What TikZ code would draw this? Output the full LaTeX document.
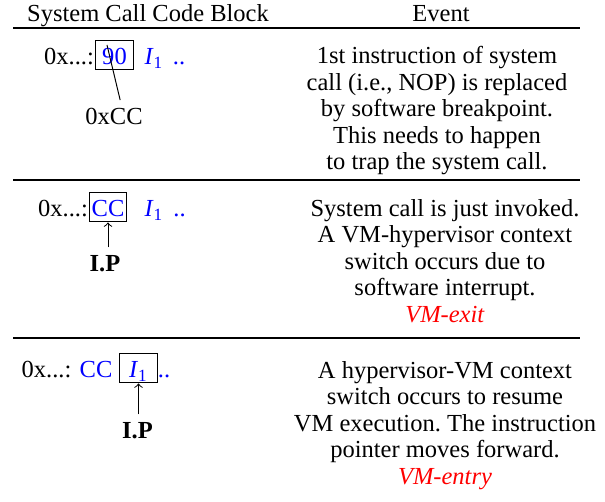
\documentclass[tikz,border=0pt]{standalone}
\usepackage{fontspec}
\setmainfont{Liberation Serif}
\frenchspacing

\begin{document}
\begin{tikzpicture}[x=0.408pt,y=-0.408pt,font=\fontsize{10}{10.8}\selectfont,
    codebox/.style={draw,anchor=base,inner xsep=0pt,inner ysep=2pt,minimum width=15.3pt,text height=8.2pt,text depth=0pt},
    ev/.style={anchor=north,align=center,inner sep=0pt}]
    \useasboundingbox (0,0) rectangle (605,502);
    % header
    \node[anchor=base] (h1) at (148,22) {System Call Code Block};
    \node[anchor=base] (h2) at (441,22) {Event};
    \draw[line width=0.6pt] (13,28) -- (580,28);
    \draw[line width=0.6pt] (13,180) -- (580,180);
    \draw[line width=0.6pt] (13,338) -- (580,338);
    % row 1
    \node[anchor=base] (a1) at (69,65) {0x...:};
    \node[codebox] (b1) at (114.5,65) {\textcolor{blue}{90}};
    \node[anchor=base,text=blue] (i1) at (154,65) {\textit{I}\textsubscript{1}};
    \node[anchor=base,text=blue] (d1) at (179,65) {..};
    \node[anchor=base] (cc) at (114,125) {0xCC};
    \coordinate (p1) at (107,45);
    \draw (p1) -- (cc.70);
    \node[ev] (e1) at (437,46) {1st instruction of system\\call (i.e., NOP) is replaced\\by software breakpoint.\\This needs to happen\\to trap the system call.};
    % row 2
    \node[anchor=base] (a2) at (63,217) {0x...:};
    \node[codebox] (b2) at (108,217) {\textcolor{blue}{CC}};
    \node[anchor=base,text=blue] (i2) at (154,217) {\textit{I}\textsubscript{1}};
    \node[anchor=base,text=blue] (d2) at (179.5,217) {..};
    \node[anchor=base] (ip2) at (105,272) {\textbf{I.P}};
    \draw[->] (ip2.north -| b2.south) -- (b2.south);
    \node[ev] (e2) at (445,199) {System call is just invoked.\\A VM-hypervisor context\\switch occurs due to\\software interrupt.\\\textcolor{red}{\textit{VM-exit}}};
    % row 3
    \node[anchor=base] (a3) at (46.5,378) {0x...:};
    \node[anchor=base,text=blue] (c3) at (96,378) {CC};
    \node[codebox] (b3) at (138.5,378) {\textcolor{blue}{\textit{I}\textsubscript{1}}};
    \node[anchor=base,text=blue] (d3) at (164,378) {..};
    \node[anchor=base] (ip3) at (137.5,439) {\textbf{I.P}};
    \draw[->] (ip3.north -| b3.south) -- (b3.south);
    \node[ev] (e3) at (445,361) {A hypervisor-VM context\\switch occurs to resume\\VM execution. The instruction\\pointer moves forward.\\\textcolor{red}{\textit{VM-entry}}};
\end{tikzpicture}
\end{document}
